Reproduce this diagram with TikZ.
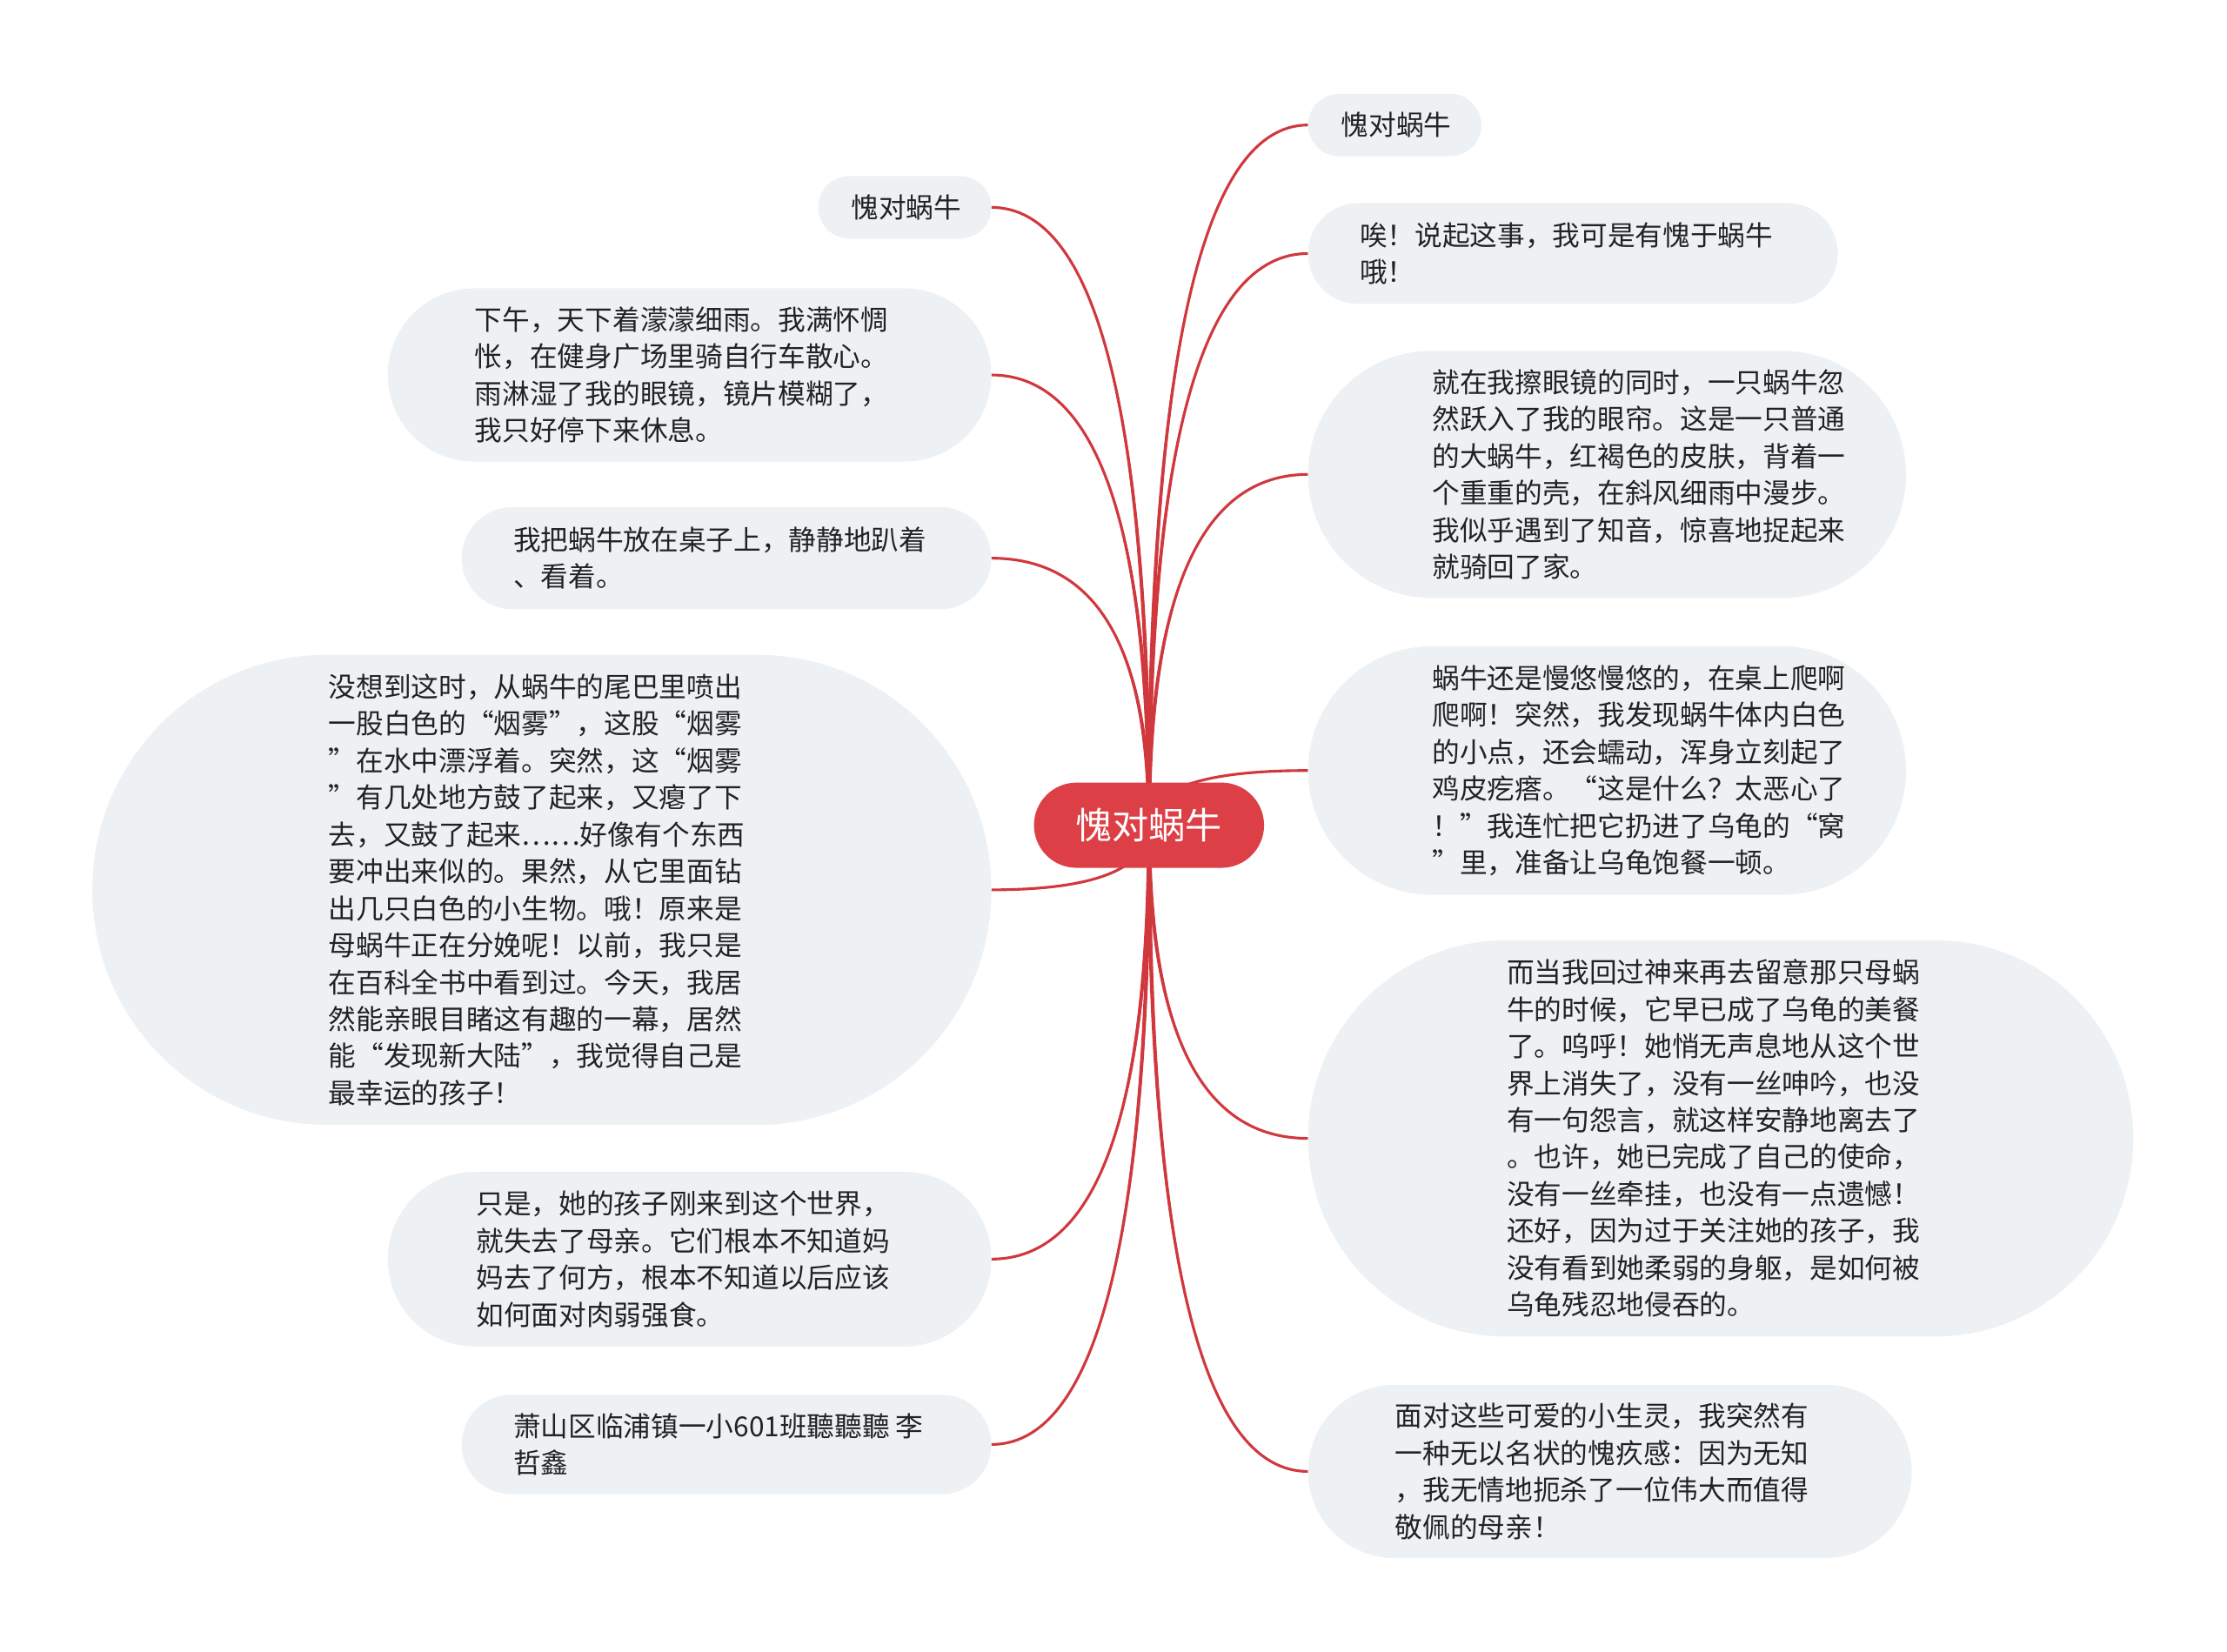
\documentclass[tikz,border=0pt]{standalone}
\usepackage{fontspec}
\setmainfont{Noto Sans CJK SC}
\usetikzlibrary{calc}
\definecolor{rootred}{RGB}{221,63,70}
\definecolor{linkred}{RGB}{208,56,62}
\definecolor{leafbg}{RGB}{238,241,244}
\definecolor{txt}{RGB}{34,34,34}
\pgfdeclarelayer{bg}
\pgfsetlayers{bg,main}
\tikzset{
  leafbox/.style={fill=leafbg, draw=none, inner sep=0pt, outer sep=0pt},
  leaftext/.style={text=txt, align=left, inner sep=0pt, anchor=west, font=\fontsize{9.7pt}{13pt}\selectfont},
  rootbox/.style={fill=rootred, text=white, inner sep=0pt, outer sep=0pt, font=\fontsize{12.9pt}{15pt}\selectfont},
  link/.style={draw=linkred, line width=0.95pt},
}
\newcommand\mmlink[2]{%
  \path (root.center |- #1.#2) coordinate (q#1);
  \fill[linkred] ($(root.center)+(-1.4,0)$) .. controls ($(root.center)!2/3!(q#1)+(-1.4,0)$) and ($(#1.#2)!2/3!(q#1)$) .. (#1.#2)
     .. controls ($(#1.#2)!2/3!(q#1)$) and ($(root.center)!2/3!(q#1)+(1.4,0)$) .. ($(root.center)+(1.4,0)$) -- cycle;
  \draw[link] (root.center) .. controls ($(root.center)!2/3!(q#1)$) and ($(#1.#2)!2/3!(q#1)$) .. (#1.#2);
}
\begin{document}
\begin{tikzpicture}[x=0.5pt,y=-0.5pt]
\useasboundingbox (0,0) rectangle (1568,1163);

% root
\node[rootbox, minimum width=81pt, minimum height=30pt, rounded corners=15pt] (root) at (809,581) {愧对蜗牛};

% left side
\node[leafbox, minimum width=61pt, minimum height=22pt, rounded corners=11pt] (L1) at (637,146) {};
\node[leaftext] (L1t) at ($(L1.west)+(23,0)$) {愧对蜗牛};

\node[leafbox, minimum width=212.5pt, minimum height=61pt, rounded corners=30.5pt] (L2) at (485.5,264) {};
\node[leaftext] (L2t) at ($(L2.west)+(61,0)$) {下午，天下着濛濛细雨。我满怀惆\\怅，在健身广场里骑自行车散心。\\雨淋湿了我的眼镜，镜片模糊了，\\我只好停下来休息。};

\node[leafbox, minimum width=186.5pt, minimum height=36pt, rounded corners=18pt] (L3) at (511.5,393) {};
\node[leaftext] (L3t) at ($(L3.west)+(36,0)$) {我把蜗牛放在桌子上，静静地趴着\\、看着。};

\node[leafbox, minimum width=316.5pt, minimum height=165.5pt, rounded corners=82.7pt] (L4) at (381.5,626.5) {};
\node[leaftext] (L4t) at ($(L4.west)+(166,0)$) {没想到这时，从蜗牛的尾巴里喷出\\一股白色的“烟雾”，这股“烟雾\\”在水中漂浮着。突然，这“烟雾\\”有几处地方鼓了起来，又瘪了下\\去，又鼓了起来……好像有个东西\\要冲出来似的。果然，从它里面钻\\出几只白色的小生物。哦！原来是\\母蜗牛正在分娩呢！以前，我只是\\在百科全书中看到过。今天，我居\\然能亲眼目睹这有趣的一幕，居然\\能“发现新大陆”，我觉得自己是\\最幸运的孩子！};

\node[leafbox, minimum width=212.5pt, minimum height=61.5pt, rounded corners=30.7pt] (L5) at (485.5,886.5) {};
\node[leaftext] (L5t) at ($(L5.west)+(62,0)$) {只是，她的孩子刚来到这个世界，\\就失去了母亲。它们根本不知道妈\\妈去了何方，根本不知道以后应该\\如何面对肉弱强食。};

\node[leafbox, minimum width=186.5pt, minimum height=35pt, rounded corners=17.5pt] (L6) at (511.5,1017) {};
\node[leaftext] (L6t) at ($(L6.west)+(36,0)$) {萧山区临浦镇一小601班聽聽聽 李\\哲鑫};

% right side
\node[leafbox, minimum width=61pt, minimum height=22pt, rounded corners=11pt] (R1) at (982,88) {};
\node[leaftext] (R1t) at ($(R1.west)+(23,0)$) {愧对蜗牛};

\node[leafbox, minimum width=186.5pt, minimum height=35.5pt, rounded corners=17.7pt] (R2) at (1107.5,178.5) {};
\node[leaftext] (R2t) at ($(R2.west)+(36,0)$) {唉！说起这事，我可是有愧于蜗牛\\哦！};

\node[leafbox, minimum width=210.5pt, minimum height=87pt, rounded corners=43.5pt] (R3) at (1131.5,334) {};
\node[leaftext] (R3t) at ($(R3.west)+(87,0)$) {就在我擦眼镜的同时，一只蜗牛忽\\然跃入了我的眼帘。这是一只普通\\的大蜗牛，红褐色的皮肤，背着一\\个重重的壳，在斜风细雨中漫步。\\我似乎遇到了知音，惊喜地捉起来\\就骑回了家。};

\node[leafbox, minimum width=210.5pt, minimum height=87.5pt, rounded corners=43.7pt] (R4) at (1131.5,542.5) {};
\node[leaftext] (R4t) at ($(R4.west)+(87,0)$) {蜗牛还是慢悠慢悠的，在桌上爬啊\\爬啊！突然，我发现蜗牛体内白色\\的小点，还会蠕动，浑身立刻起了\\鸡皮疙瘩。“这是什么？太恶心了\\！”我连忙把它扔进了乌龟的“窝\\”里，准备让乌龟饱餐一顿。};

\node[leafbox, minimum width=290.5pt, minimum height=139.5pt, rounded corners=69.7pt] (R5) at (1211.5,801.5) {};
\node[leaftext] (R5t) at ($(R5.west)+(139.5,0)$) {而当我回过神来再去留意那只母蜗\\牛的时候，它早已成了乌龟的美餐\\了。呜呼！她悄无声息地从这个世\\界上消失了，没有一丝呻吟，也没\\有一句怨言，就这样安静地离去了\\。也许，她已完成了自己的使命，\\没有一丝牵挂，也没有一点遗憾！\\还好，因为过于关注她的孩子，我\\没有看到她柔弱的身躯，是如何被\\乌龟残忍地侵吞的。};

\node[leafbox, minimum width=212.5pt, minimum height=61pt, rounded corners=30.5pt] (R6) at (1133.5,1036) {};
\node[leaftext] (R6t) at ($(R6.west)+(61,0)$) {面对这些可爱的小生灵，我突然有\\一种无以名状的愧疚感：因为无知\\，我无情地扼杀了一位伟大而值得\\敬佩的母亲！};

% background and connectors
\begin{pgfonlayer}{bg}
\fill[white] (0,0) rectangle (1568,1163);
\mmlink{L1}{east}
\mmlink{L2}{east}
\mmlink{L3}{east}
\mmlink{L4}{east}
\mmlink{L5}{east}
\mmlink{L6}{east}
\mmlink{R1}{west}
\mmlink{R2}{west}
\mmlink{R3}{west}
\mmlink{R4}{west}
\mmlink{R5}{west}
\mmlink{R6}{west}
\end{pgfonlayer}
\end{tikzpicture}
\end{document}
